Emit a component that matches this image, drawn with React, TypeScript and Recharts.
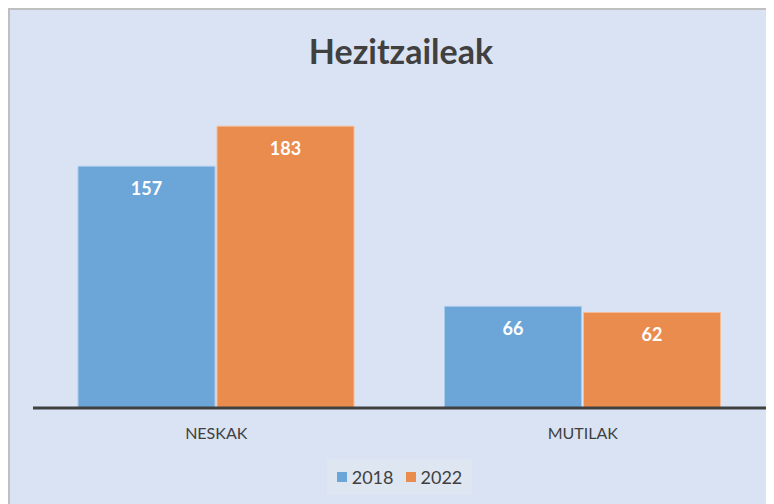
import React from "react";
import { BarChart, Bar, XAxis, YAxis, LabelList } from "recharts";

const categories = ["NESKAK", "MUTILAK"];
const values2018 = [157, 66];
const values2022 = [183, 62];
const seriesNames = ["2018", "2022"];
const colors = ["#6CA6D9", "#EA8C4E"];
const title = "Hezitzaileak";

const data = categories.map((c, i) => ({
  name: c,
  y2018: values2018[i],
  y2022: values2022[i],
}));

const FONT = "Lato, 'Open Sans', sans-serif";

const LegendBox = () => (
  <div
    style={{
      position: "absolute",
      left: 317,
      top: 449,
      width: 145,
      height: 36,
      background: "#DEE6F2",
      display: "flex",
      alignItems: "center",
      justifyContent: "center",
      fontFamily: FONT,
      fontSize: 18,
      color: "#404040",
      gap: 12,
    }}
  >
    {seriesNames.map((n, i) => (
      <div key={n} style={{ display: "flex", alignItems: "center" }}>
        <span
          style={{
            display: "inline-block",
            width: 10,
            height: 10,
            background: colors[i],
            marginRight: 5,
          }}
        />
        <span>{n}</span>
      </div>
    ))}
  </div>
);

export default function App() {
  return (
    <div
      style={{
        position: "relative",
        width: 764,
        height: 494,
        borderTop: "2px solid #BFBFBF",
        borderLeft: "2px solid #BFBFBF",
        background: "#DAE3F3",
      }}
    >
      <div
        style={{
          position: "absolute",
          left: 0,
          width: 782,
          top: 21,
          textAlign: "center",
          fontFamily: FONT,
          fontWeight: 700,
          fontSize: 34,
          color: "#404040",
          lineHeight: "40px",
        }}
      >
        {title}
      </div>
      <BarChart
        width={764}
        height={494}
        data={data}
        margin={{ top: 90, right: 8, bottom: 66, left: 23 }}
        barSize={137}
        barGap={2}
      >
        <YAxis hide domain={[0, 200]} />
        <XAxis
          dataKey="name"
          height={30}
          axisLine={{ stroke: "#404040", strokeWidth: 3 }}
          tickLine={false}
          tickSize={0}
          tickMargin={20}
          tick={{ fill: "#404040", fontSize: 16, fontFamily: FONT }}
        />
        <Bar
          dataKey="y2018"
          name={seriesNames[0]}
          fill={colors[0]}
          stroke="#A9CBEA"
          strokeWidth={1}
          isAnimationActive={false}
        >
          <LabelList
            dataKey="y2018"
            position="insideTop"
            offset={16}
            fill="#FFFFFF"
            fontSize={18}
            fontWeight={700}
            fontFamily={FONT}
          />
        </Bar>
        <Bar
          dataKey="y2022"
          name={seriesNames[1]}
          fill={colors[1]}
          stroke="#F4BD98"
          strokeWidth={1}
          isAnimationActive={false}
        >
          <LabelList
            dataKey="y2022"
            position="insideTop"
            offset={16}
            fill="#FFFFFF"
            fontSize={18}
            fontWeight={700}
            fontFamily={FONT}
          />
        </Bar>
      </BarChart>
      <LegendBox />
    </div>
  );
}
